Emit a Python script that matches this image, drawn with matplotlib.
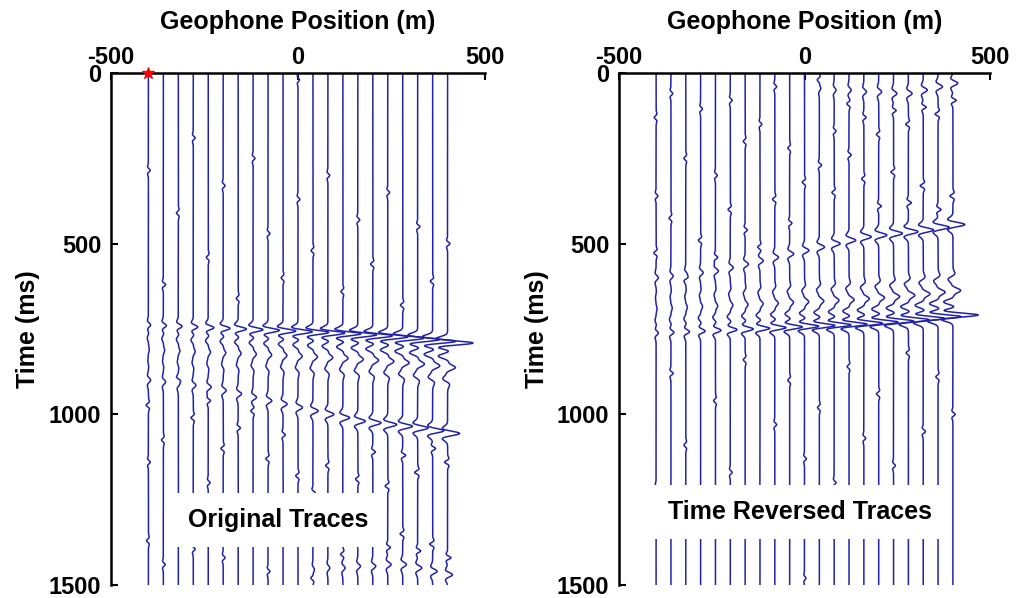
import numpy as np
import matplotlib.pyplot as plt

plt.rcParams['font.family'] = ['Liberation Sans', 'DejaVu Sans']
plt.rcParams['font.weight'] = 'bold'
plt.rcParams['axes.labelweight'] = 'bold'
plt.rcParams['axes.unicode_minus'] = False

# geophone offsets (m)
offsets = [-400, -360, -320, -280, -240, -200, -160, -120, -80, -40, 0,
           40, 80, 120, 160, 200, 240, 280, 320, 360, 400]

# direct arrival: time (ms) and peak deflection (m)
t_direct = [738, 740, 742, 744, 746, 748, 750, 752, 754, 756, 758,
            760, 762, 764, 767, 770, 773, 777, 781, 786, 791]
a_direct = [6, 8, 10, 12, 15, 18, 22, 26, 30, 34, 38,
            42, 45, 48, 50, 52, 54, 56, 58, 62, 68]

# ringing after the direct arrival
coda_a = [3, 4, 5, 6, 7, 8, 9, 10, 11, 12, 13,
          14, 15, 16, 17, 18, 19, 20, 21, 22, 24]
coda_lag = [38, 72, 105]
coda_w = [-1.0, 0.8, -0.5]

# later arrival
late_t = [900, 905, 910, 915, 920, 930, 940, 950, 960, 970, 980,
          990, 1000, 1010, 1020, 1025, 1030, 1035, 1040, 1048, 1056]
late_a = [6, 6, 7, 7, 8, 8, 9, 9, 10, 11, 12,
          14, 16, 18, 20, 22, 24, 26, 28, 30, 32]

# energy near the end of the record
tail_t = [1460, 1460, 1460, 1460, 1460, 1460, 1460, 1460, 1460, 1460, 1460,
          1455, 1450, 1450, 1445, 1445, 1440, 1440, 1450, 1460, 1470]
tail_a = [0, 0, 0, 0, 0, 0, 0, 0, 0, 0, 0,
          4, 5, 6, 7, 8, 9, 10, 11, 12, 13]

# small noise kinks: (trace, time ms, deflection m)
blips = [(0, 285, 5), (0, 973, -6), (0, 1140, 5), (0, 1370, -5),
         (1, 620, 6), (1, 1075, -5), (1, 1440, 5),
         (2, 410, -5), (2, 900, 6), (2, 1250, -5),
         (3, 190, 5), (3, 1010, -6), (3, 1395, 5),
         (4, 540, -5), (4, 960, 6), (4, 1200, 5),
         (5, 330, 5), (5, 1100, -6), (5, 1420, 5),
         (6, 660, -5), (6, 1040, 6), (6, 1300, -5),
         (7, 250, 5), (7, 990, -6), (7, 1350, 5),
         (8, 470, 5), (8, 1130, -6), (8, 1460, 5),
         (9, 600, -5), (9, 1060, 6), (9, 1280, -5),
         (10, 20, 4), (10, 370, 5), (10, 1180, -6),
         (11, 520, -5), (11, 1230, 6), (11, 1480, -5),
         (12, 300, 5), (12, 1150, -6), (12, 1330, 5),
         (13, 640, -5), (13, 1260, 6), (13, 1410, -6),
         (14, 430, 5), (14, 1190, -6), (14, 1370, 6),
         (15, 560, -6), (15, 1110, 7), (15, 1320, -6),
         (16, 350, 5), (16, 1210, -7), (16, 1390, 7),
         (17, 680, -6), (17, 1120, 8), (17, 1350, -7),
         (18, 450, 6), (18, 1170, -8), (18, 1400, 8),
         (19, 610, -6), (19, 1100, 8), (19, 1380, -8),
         (20, 500, 6), (20, 1140, -8), (20, 1420, 9)]

t = np.arange(0, 1501, 1.0)


def ricker(tt, t0, f):
    a = (np.pi * f * (tt - t0) / 1000.0) ** 2
    return (1 - 2 * a) * np.exp(-a)


def build_trace(i, tt):
    s = a_direct[i] * ricker(tt, t_direct[i], 28)
    for lag, w in zip(coda_lag, coda_w):
        s = s + coda_a[i] * w * ricker(tt, t_direct[i] + lag, 22)
    s = s + late_a[i] * ricker(tt, late_t[i], 25)
    s = s + tail_a[i] * ricker(tt, tail_t[i], 25)
    for k, tb, ab in blips:
        if k == i:
            s = s + ab * ricker(tt, tb, 35)
    return s


line_col = '#2222a8'

fig = plt.figure(figsize=(10.16, 5.98), dpi=100)
ax1 = fig.add_axes([111 / 1016, 13 / 598, 374 / 1016, 512 / 598])
ax2 = fig.add_axes([619 / 1016, 13 / 598, 371 / 1016, 512 / 598])

for i, x0 in enumerate(offsets):
    ax1.plot(x0 + build_trace(i, t), t, color=line_col, lw=1.1, zorder=2)
    # same trace played backwards in time
    ax2.plot(x0 + build_trace(i, t[-1] - t), t, color=line_col, lw=1.1, zorder=2)

# source position
ax1.plot(offsets[0], 0, marker='*', color='red', ms=9, clip_on=False, zorder=6)

for ax in (ax1, ax2):
    ax.set_xlim(-500, 500)
    ax.set_ylim(1500, 0)
    ax.xaxis.tick_top()
    ax.spines['right'].set_visible(False)
    ax.spines['bottom'].set_visible(False)
    ax.spines['top'].set_linewidth(1.8)
    ax.spines['left'].set_linewidth(1.8)
    ax.set_xticks([-500, 0, 500])
    ax.set_yticks([0, 500, 1000, 1500])
    ax.tick_params(direction='in', length=5, width=1.5, labelsize=17)
    ax.tick_params(axis='x', pad=3)
    ax.tick_params(axis='y', pad=7)
    for lab in ax.get_xticklabels() + ax.get_yticklabels():
        lab.set_fontweight('bold')
    ax.set_ylabel('Time (ms)', fontsize=18, fontweight='bold')
    ax.yaxis.set_label_coords(-0.19, 0.5)
    ax.text(0.5, 1.10, 'Geophone Position (m)', transform=ax.transAxes,
            ha='center', va='center', fontsize=18, fontweight='bold')

ax1.text(-53, 1310, 'Original Traces', ha='center', va='center', fontsize=18,
         fontweight='bold',
         bbox=dict(facecolor='white', edgecolor='none', pad=11), zorder=5)
ax2.text(-12, 1286, 'Time Reversed Traces', ha='center', va='center', fontsize=18,
         fontweight='bold',
         bbox=dict(facecolor='white', edgecolor='none', pad=11), zorder=5)

fig.savefig('out.png', dpi=100)
